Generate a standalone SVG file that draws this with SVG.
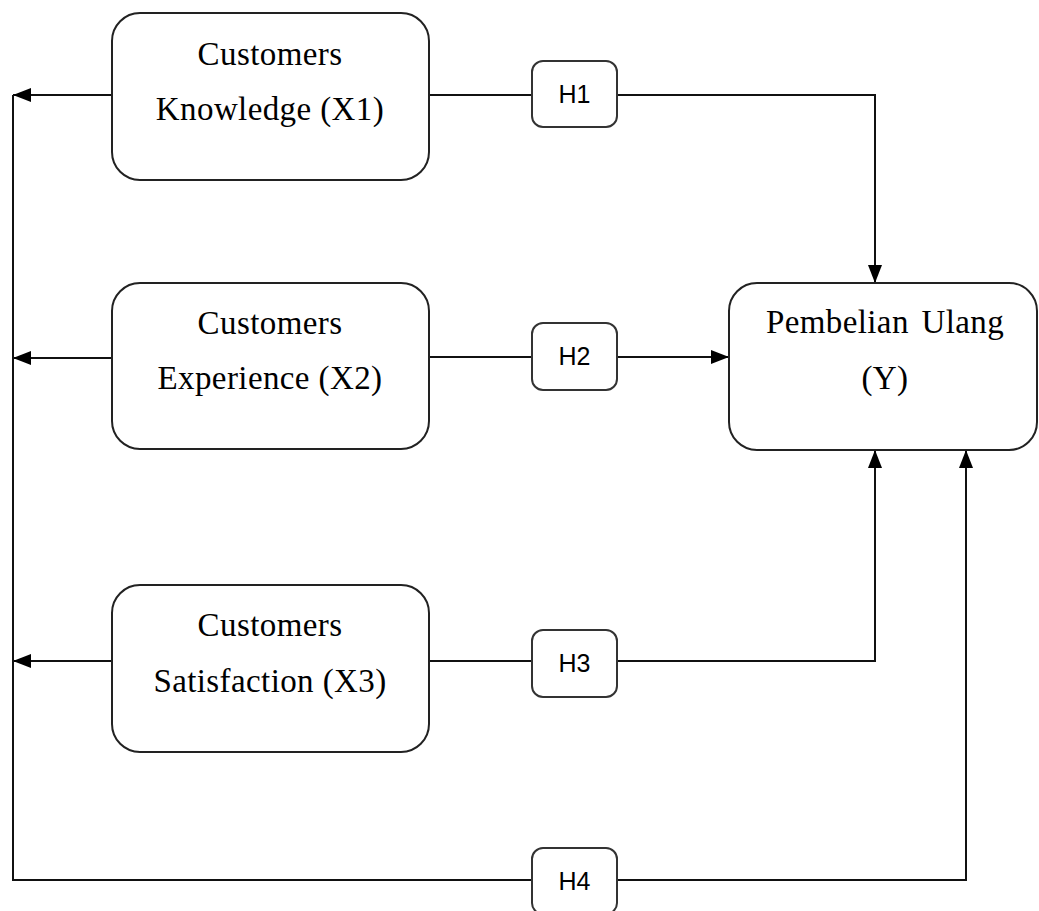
<svg xmlns="http://www.w3.org/2000/svg" width="1039" height="911" viewBox="0 0 1039 911">
<style>
.box{fill:#fff;stroke:#222;stroke-width:2}
.hbox{fill:#fff;stroke:#333;stroke-width:2}
.t{font-family:"Liberation Serif","Times New Roman",serif;font-size:33px;letter-spacing:0.4px;fill:#000;text-anchor:middle}
.h{font-family:"Liberation Sans",Arial,sans-serif;font-size:25px;fill:#000;text-anchor:middle}
.c{fill:none;stroke:#111;stroke-width:2}
</style>
<defs>
<marker id="arr" viewBox="0 0 18 14" refX="18" refY="7" markerWidth="18" markerHeight="14" markerUnits="userSpaceOnUse" orient="auto">
<path d="M0,0 L18,7 L0,14 Z" fill="#000"/>
</marker>
</defs>
<rect width="1039" height="911" fill="#fff"/>
<g id="connectors">
<path class="c" d="M429,95 H532"/>
<path class="c" d="M617,95 H875 V283" marker-end="url(#arr)"/>
<path class="c" d="M112,95 H13" marker-end="url(#arr)"/>
<path class="c" d="M112,358 H13" marker-end="url(#arr)"/>
<path class="c" d="M112,661 H13" marker-end="url(#arr)"/>
<path class="c" d="M429,357 H532"/>
<path class="c" d="M617,357 H729" marker-end="url(#arr)"/>
<path class="c" d="M429,661 H532"/>
<path class="c" d="M617,661 H875 V450" marker-end="url(#arr)"/>
<path class="c" d="M13,95 V880 H532"/>
<path class="c" d="M617,880 H966 V450" marker-end="url(#arr)"/>
</g>
<g id="x1">
<rect class="box" x="112" y="13" width="317" height="167" rx="28"/>
<text class="t" x="270" y="65">Customers</text>
<text class="t" x="270" y="120">Knowledge (X1)</text>
</g>
<g id="x2">
<rect class="box" x="112" y="283" width="317" height="166" rx="28"/>
<text class="t" x="270" y="334">Customers</text>
<text class="t" x="270" y="389">Experience (X2)</text>
</g>
<g id="x3">
<rect class="box" x="112" y="585" width="317" height="167" rx="28"/>
<text class="t" x="270" y="636">Customers</text>
<text class="t" x="270" y="692">Satisfaction (X3)</text>
</g>
<g id="y">
<rect class="box" x="729" y="283" width="308" height="167" rx="28"/>
<text class="t" x="885" y="333" word-spacing="4">Pembelian Ulang</text>
<text class="t" x="885" y="389">(Y)</text>
</g>
<g id="h1">
<rect class="hbox" x="532" y="61" width="85" height="66" rx="11"/>
<text class="h" x="574.5" y="103">H1</text>
</g>
<g id="h2">
<rect class="hbox" x="532" y="323" width="85" height="67" rx="11"/>
<text class="h" x="574.5" y="365">H2</text>
</g>
<g id="h3">
<rect class="hbox" x="532" y="630" width="85" height="67" rx="11"/>
<text class="h" x="574.5" y="672">H3</text>
</g>
<g id="h4">
<rect class="hbox" x="532" y="848" width="85" height="66" rx="11"/>
<text class="h" x="574.5" y="890">H4</text>
</g>
</svg>
